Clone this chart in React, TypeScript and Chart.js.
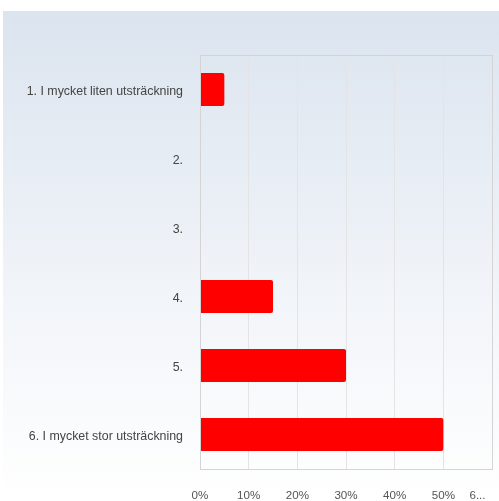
import React, { useEffect, useRef } from "react";
import { Chart, registerables } from "chart.js";

Chart.register(...registerables);

const categories = [
  "1. I mycket liten utsträckning",
  "2.",
  "3.",
  "4.",
  "5.",
  "6. I mycket stor utsträckning",
];
const values = [5, 0, 0, 15, 30, 50];
const tickValues = [0, 10, 20, 30, 40, 50, 60];
const tickLabels = ["0%", "10%", "20%", "30%", "40%", "50%", "6..."];

const borderPlugin = {
  id: "plotBorder",
  afterDraw(chart: any) {
    const { ctx, chartArea } = chart;
    ctx.save();
    ctx.strokeStyle = "#d4d4d4";
    ctx.lineWidth = 1;
    ctx.strokeRect(
      Math.round(chartArea.left) + 0.5,
      Math.round(chartArea.top) + 0.5,
      Math.round(chartArea.right - chartArea.left),
      Math.round(chartArea.bottom - chartArea.top)
    );
    ctx.restore();
  },
};

export default function App() {
  const ref = useRef<HTMLCanvasElement | null>(null);
  useEffect(() => {
    document.body.style.margin = "0";
    const chart = new Chart(ref.current as HTMLCanvasElement, {
      type: "bar",
      data: {
        labels: categories,
        datasets: [
          {
            data: values,
            backgroundColor: "#ff0000",
            borderRadius: 2,
            borderSkipped: "start",
            categoryPercentage: 1,
            barPercentage: 0.48,
          },
        ],
      },
      options: {
        indexAxis: "y",
        animation: false,
        responsive: false,
        maintainAspectRatio: false,
        layout: { padding: { top: 44, right: 7, left: 0, bottom: 0 } },
        plugins: { legend: { display: false }, tooltip: { enabled: false } },
        scales: {
          x: {
            min: 0,
            max: 60,
            afterBuildTicks(axis: any) {
              axis.ticks = tickValues.map((v) => ({ value: v }));
            },
            afterFit(axis: any) {
              axis.height = 32;
              axis.paddingLeft = 0;
              axis.paddingRight = 0;
            },
            grid: { color: "#e4e4e4", drawTicks: false },
            border: { color: "#d4d4d4" },
            ticks: {
              padding: 20,
              maxRotation: 0,
              autoSkip: false,
              color: "#555555",
              font: { family: "'Liberation Sans', Arial, sans-serif", size: 11.6 },
              callback: (_v: any, i: number) =>
                i === tickLabels.length - 1 ? tickLabels[i] + "         " : tickLabels[i],
            },
          },
          y: {
            afterFit(axis: any) {
              axis.width = 197;
            },
            grid: { display: false, drawTicks: false },
            border: { color: "#d4d4d4" },
            ticks: {
              padding: 17,
              labelOffset: 2,
              autoSkip: false,
              color: "#444444",
              font: { family: "'Liberation Sans', Arial, sans-serif", size: 12.4 },
            },
          },
        },
      },
      plugins: [borderPlugin],
    });
    return () => chart.destroy();
  }, []);
  return (
    <div
      style={{
        position: "absolute",
        left: 3,
        top: 11,
        width: 496,
        height: 490,
        background: "linear-gradient(to bottom, #dbe4ef 0%, #f2f5f9 60%, #ffffff 100%)",
      }}
    >
      <canvas ref={ref} width={496} height={490} style={{ display: "block" }} />
    </div>
  );
}
